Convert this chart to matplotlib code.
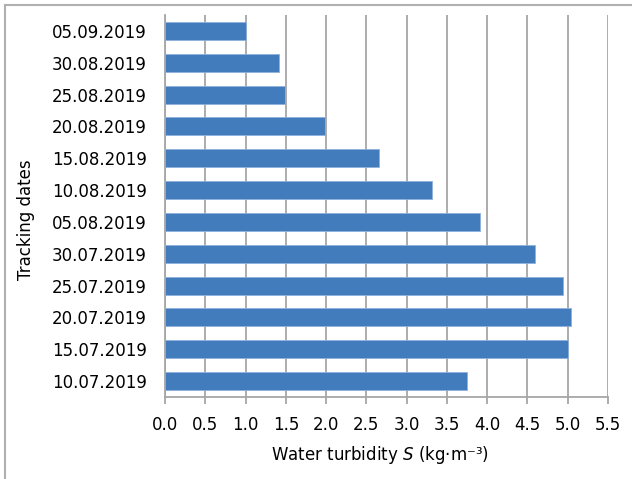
import numpy as np
import matplotlib
matplotlib.use('Agg')
import matplotlib.pyplot as plt
from matplotlib.lines import Line2D

plt.rcParams['font.family'] = ['DejaVu Sans']
plt.rcParams['mathtext.fontset'] = 'dejavusans'

dates = ['10.07.2019', '15.07.2019', '20.07.2019', '25.07.2019', '30.07.2019',
         '05.08.2019', '10.08.2019', '15.08.2019', '20.08.2019', '25.08.2019',
         '30.08.2019', '05.09.2019']
turbidity = [3.75, 5.00, 5.04, 4.94, 4.59, 3.91, 3.32, 2.66, 1.99, 1.49, 1.42, 1.01]
xticks = np.arange(0, 5.51, 0.5)

grid_col = '#a6a6a6'
bar_col = '#427cbd'

fig = plt.figure(figsize=(6.32, 4.79), dpi=100)
ax = fig.add_axes([165/632, (479-397)/479, (608-165)/632, (397-15)/479])

y = np.arange(len(dates))
ax.barh(y, turbidity, height=0.57, color=bar_col, edgecolor='#8fb0dc', linewidth=0.6, zorder=3)

ax.set_xlim(0, 5.5)
ax.set_ylim(-0.5, len(dates) - 0.5)
ax.set_xticks(xticks)
ax.set_xticklabels(['%.1f' % v for v in xticks], fontsize=12)
ax.set_yticks(y)
ax.set_yticklabels(dates, fontsize=12)
ax.tick_params(axis='y', length=0, pad=13)
ax.tick_params(axis='x', length=5, width=1.3, color=grid_col, pad=8.5)

ax.xaxis.grid(True, color=grid_col, linewidth=1.3, zorder=0)
ax.set_axisbelow(True)
for s in ['top', 'right']:
    ax.spines[s].set_visible(False)
for s in ['left', 'bottom']:
    ax.spines[s].set_color(grid_col)
    ax.spines[s].set_linewidth(1.3)

ax.set_xlabel('Water turbidity $\\mathit{S}$ (kg·m⁻³)', fontsize=12)
ax.set_ylabel('Tracking dates', fontsize=12)
ax.xaxis.set_label_coords(0.485, -0.123)
ax.yaxis.set_label_coords(-0.293, 0.463)

# outer frame (only top and left visible in the crop)
fig.add_artist(Line2D([5/632, 5/632], [0, 1 - 5/479], transform=fig.transFigure,
                      color='#b0b0b0', linewidth=1.5))
fig.add_artist(Line2D([5/632, 1], [1 - 5/479, 1 - 5/479], transform=fig.transFigure,
                      color='#b0b0b0', linewidth=1.5))

fig.savefig('out.png', dpi=100)
